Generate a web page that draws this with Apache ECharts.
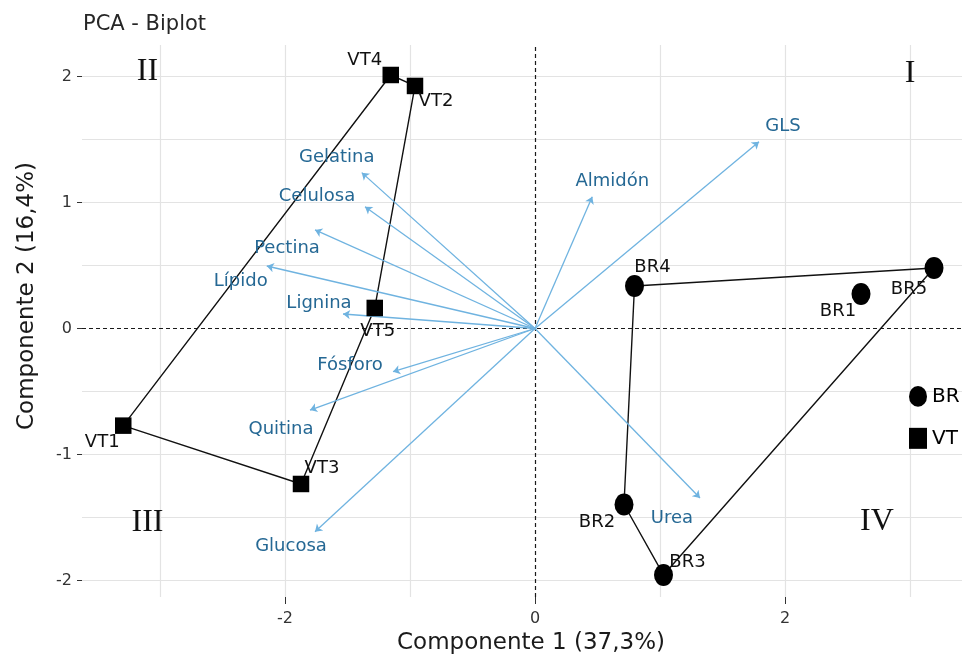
<!DOCTYPE html>
<html>
<head>
<meta charset="utf-8">
<script src="https://cdn.jsdelivr.net/npm/echarts@6/dist/echarts.min.js"></script>
<style>html,body{margin:0;padding:0;background:#fff;}#chart{width:970px;height:655px;}</style>
</head>
<body>
<div id="chart"></div>
<script>
// ---------- DATA ----------
const vtNames = ['VT1', 'VT2', 'VT3', 'VT4', 'VT5'];
const vtX = [-3.294, -0.96, -1.872, -1.154, -1.282];
const vtY = [-0.771, 1.925, -1.234, 2.012, 0.163];
const vtHull = ['VT1', 'VT4', 'VT2', 'VT5', 'VT3'];

const brNames = ['BR1', 'BR2', 'BR3', 'BR4', 'BR5'];
const brX = [2.608, 0.712, 1.028, 0.796, 3.192];
const brY = [0.274, -1.397, -1.956, 0.337, 0.480];
const brHull = ['BR4', 'BR5', 'BR3', 'BR2'];

const varNames = ['Gelatina', 'Celulosa', 'Pectina', 'Lípido', 'Lignina', 'Fósforo', 'Quitina', 'Glucosa', 'Almidón', 'GLS', 'Urea'];
const varX = [-1.386, -1.36, -1.76, -2.146, -1.536, -1.136, -1.8, -1.76, 0.458, 1.792, 1.32];
const varY = [1.237, 0.967, 0.782, 0.496, 0.115, -0.343, -0.647, -1.613, 1.046, 1.483, -1.345];

const quadNames = ['I', 'II', 'III', 'IV'];
const quadX = [3.0, -3.1, -3.1, 2.736];
const quadY = [2.02, 2.035, -1.544, -1.531];

const xTicks = [-2, 0, 2];
const yTicks = [-2, -1, 0, 1, 2];
const xGrid = [-3, -2, -1, 1, 2, 3];
const yGrid = [-2, -1.5, -1, -0.5, 0.5, 1, 1.5, 2];

const titleText = 'PCA - Biplot';
const xTitle = 'Componente 1 (37,3%)';
const yTitle = 'Componente 2 (16,4%)';

// ---------- STYLE / LAYOUT ----------
const FONT = 'DejaVu Sans';
const labelOffsets = {
  VT1: [-21, 17], VT2: [21, 15], VT3: [21, -16], VT4: [-26, -15], VT5: [3, 23],
  BR1: [-23, 17], BR2: [-27, 18], BR3: [24, -13], BR4: [18, -19], BR5: [-25, 21],
  'Gelatina': [-25, -15], 'Celulosa': [-48, -10], 'Pectina': [-28, 18], 'Lípido': [-26, 15],
  'Lignina': [-24, -11], 'Fósforo': [-43, -6], 'Quitina': [-29, 19], 'Glucosa': [-24, 15],
  'Almidón': [20, -15], 'GLS': [24, -15], 'Urea': [-28, 20]
};
const ellipse = 'path://M0,11A9.5,11,0,1,1,19,11A9.5,11,0,1,1,0,11Z';

function pts(names, xs, ys) {
  return names.map((n, i) => ({ name: n, value: [xs[i], ys[i]],
    label: { offset: labelOffsets[n] || [0, 0] } }));
}
function hull(order, names, xs, ys) {
  const d = order.map(n => { const i = names.indexOf(n); return [xs[i], ys[i]]; });
  d.push(d[0]);
  return d;
}

const chart = echarts.init(document.getElementById('chart'), null, { renderer: 'canvas' });

const option = {
  animation: false,
  backgroundColor: '#ffffff',
  textStyle: { fontFamily: FONT },
  title: {
    text: titleText, left: 78, top: 9,
    textStyle: { fontFamily: FONT, fontSize: 21, fontWeight: 'normal', color: '#262626' }
  },
  legend: {
    data: [{ name: 'BR', icon: ellipse }, { name: 'VT', icon: 'rect' }],
    orient: 'vertical', left: 904, top: 381, z: 20,
    itemWidth: 18, itemHeight: 21, itemGap: 21, itemTextGap: 4,
    textStyle: { fontFamily: FONT, fontSize: 20, color: '#000' }
  },
  grid: { left: 82, right: 8, top: 45, bottom: 58, containLabel: false },
  xAxis: {
    type: 'value', min: -3.624, max: 3.416, position: 'bottom',
    axisLine: { show: false, onZero: false },
    splitLine: { show: false },
    axisTick: { show: true, customValues: xTicks, length: 7, lineStyle: { color: '#333', width: 1 } },
    axisLabel: { customValues: xTicks, margin: 14, fontFamily: FONT, fontSize: 16, color: '#333' }
  },
  yAxis: {
    type: 'value', min: -2.131, max: 2.25, position: 'left',
    axisLine: { show: false, onZero: false },
    splitLine: { show: false },
    axisTick: { show: true, customValues: yTicks, length: 5, lineStyle: { color: '#333', width: 1 } },
    axisLabel: { customValues: yTicks, margin: 10, fontFamily: FONT, fontSize: 16, color: '#333' }
  },
  graphic: [
    { type: 'text', x: 531, y: 643, z: 10,
      style: { text: xTitle, align: 'center', verticalAlign: 'middle', font: '23px "DejaVu Sans"', fill: '#1a1a1a' } },
    { type: 'text', x: 27, y: 296, rotation: Math.PI / 2, z: 10,
      style: { text: yTitle, align: 'center', verticalAlign: 'middle', font: '23px "DejaVu Sans"', fill: '#1a1a1a' } }
  ],
  series: [
    {
      name: 'grid', type: 'scatter', data: [], silent: true, z: 0,
      markLine: {
        silent: true, z: 0, symbol: ['none', 'none'], label: { show: false },
        lineStyle: { color: '#e3e3e3', width: 1.2, type: 'solid' },
        data: xGrid.map(v => ({ xAxis: v })).concat(yGrid.map(v => ({ yAxis: v })))
      }
    },
    {
      name: 'zero', type: 'scatter', data: [], silent: true, z: 1,
      markLine: {
        silent: true, z: 1, symbol: ['none', 'none'], label: { show: false },
        lineStyle: { color: '#1a1a1a', width: 1.2, type: [4, 3] },
        data: [{ xAxis: 0 }, { yAxis: 0 }]
      }
    },
    {
      name: 'VT hull', type: 'line', data: hull(vtHull, vtNames, vtX, vtY),
      showSymbol: false, symbol: 'none', silent: true, z: 3,
      lineStyle: { color: '#111', width: 1.4 }
    },
    {
      name: 'BR hull', type: 'line', data: hull(brHull, brNames, brX, brY),
      showSymbol: false, symbol: 'none', silent: true, z: 3,
      lineStyle: { color: '#111', width: 1.4 }
    },
    {
      name: 'arrows', type: 'lines', coordinateSystem: 'cartesian2d', z: 4,
      symbol: ['none', 'arrow'], symbolSize: 7,
      lineStyle: { color: '#6fb3e0', width: 1.3, opacity: 1, curveness: 0 },
      data: varNames.map((n, i) => ({ name: n, coords: [[0, 0], [varX[i], varY[i]]] }))
    },
    {
      name: 'varLabels', type: 'scatter', symbolSize: 0, z: 6, silent: true,
      itemStyle: { opacity: 1 },
      data: pts(varNames, varX, varY),
      label: { show: true, position: 'inside', formatter: '{b}', fontFamily: FONT, fontSize: 18, color: '#256894' }
    },
    {
      name: 'BR', type: 'scatter', symbol: ellipse, symbolSize: [19, 22], z: 5,
      itemStyle: { color: '#000', opacity: 1 },
      data: pts(brNames, brX, brY),
      label: { show: true, position: 'inside', formatter: '{b}', fontFamily: FONT, fontSize: 18, color: '#111' }
    },
    {
      name: 'VT', type: 'scatter', symbol: 'rect', symbolSize: 16.5, z: 5,
      itemStyle: { color: '#000', opacity: 1 },
      data: pts(vtNames, vtX, vtY),
      label: { show: true, position: 'inside', formatter: '{b}', fontFamily: FONT, fontSize: 18, color: '#111' }
    },
    {
      name: 'quadrants', type: 'scatter', symbolSize: 0, z: 6, silent: true,
      itemStyle: { opacity: 1 },
      data: quadNames.map((n, i) => ({ name: n, value: [quadX[i], quadY[i]] })),
      label: { show: true, position: 'inside', formatter: '{b}', fontFamily: 'Liberation Serif', fontSize: 32, color: '#111' }
    }
  ]
};
chart.setOption(option);
</script>
</body>
</html>
